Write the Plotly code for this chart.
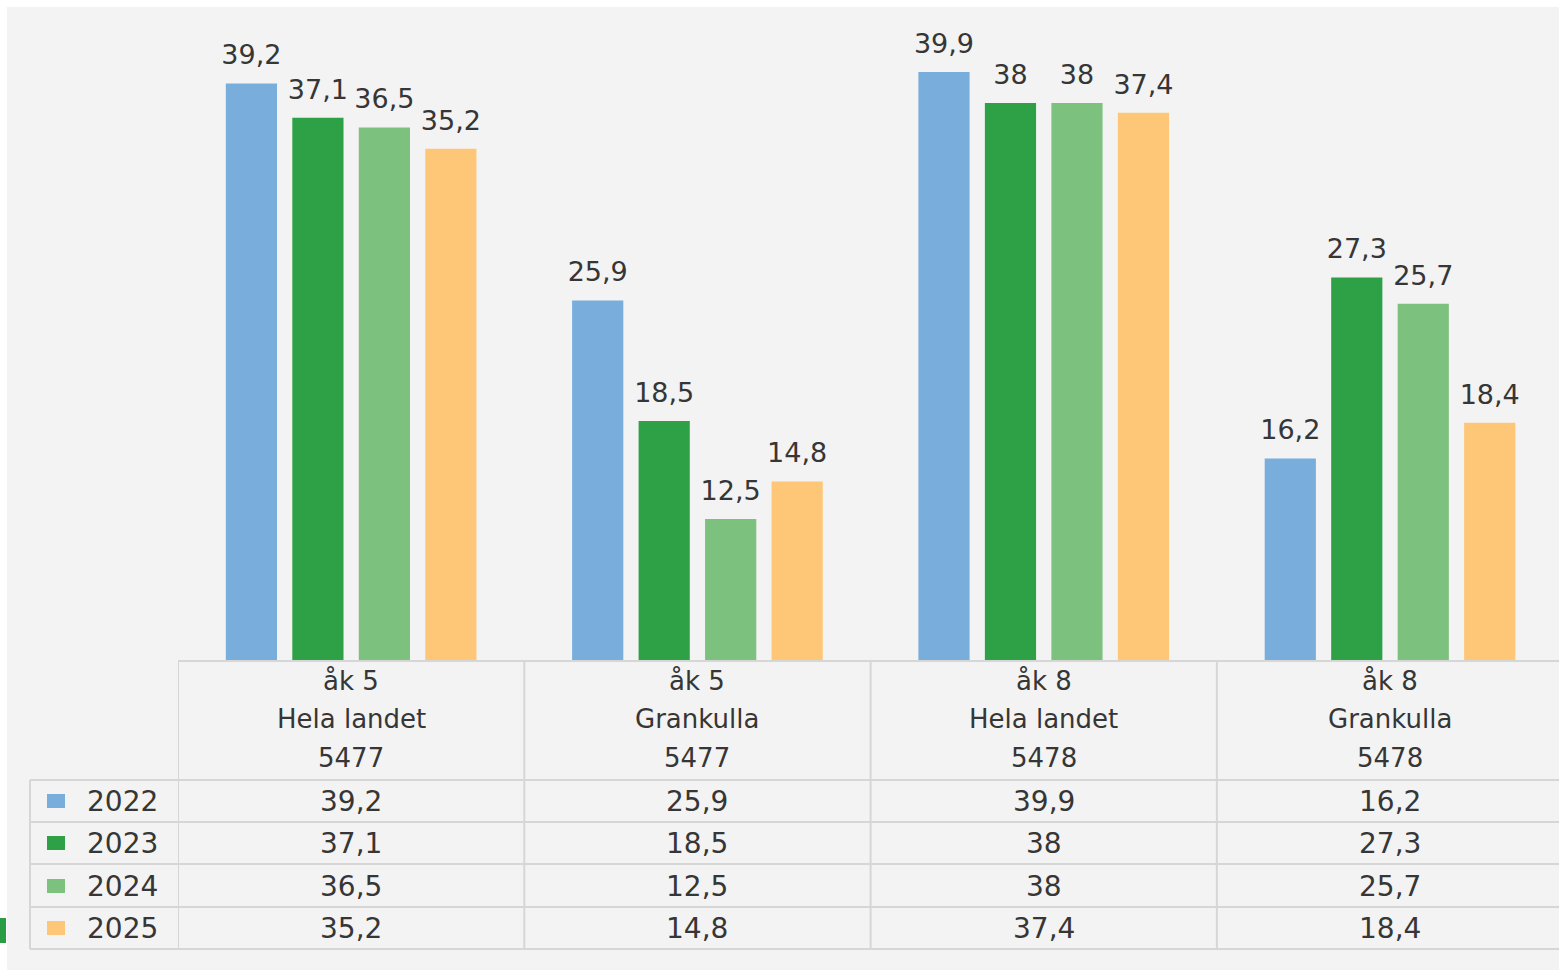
import plotly.graph_objects as go

# ---------------- data ----------------
categories = ["åk 5 Hela landet", "åk 5 Grankulla", "åk 8 Hela landet", "åk 8 Grankulla"]
grade_labels = ["åk 5", "åk 5", "åk 8", "åk 8"]
area_labels = ["Hela landet", "Grankulla", "Hela landet", "Grankulla"]
code_labels = ["5477", "5477", "5478", "5478"]
years = ["2022", "2023", "2024", "2025"]
v2022 = [39.2, 25.9, 39.9, 16.2]
v2023 = [37.1, 18.5, 38, 27.3]
v2024 = [36.5, 12.5, 38, 25.7]
v2025 = [35.2, 14.8, 37.4, 18.4]
series = [v2022, v2023, v2024, v2025]
colors = ["#79addc", "#2ea045", "#7cc17e", "#fec777"]

# ---------------- styling / layout constants ----------------
W, H = 1559, 970
PLOT_L, PLOT_T, PLOT_B = 178, 8, 660     # page pixels
ML, MR, MT, MB = PLOT_L, 0, PLOT_T, H - PLOT_B
PW, PH = W - ML - MR, H - MT - MB
BG = "#f3f3f3"
LINE = "#d6d6d6"
TXT = "#363636"
FONT = "DejaVu Sans"
LABEL_PAD = 0.62  # gap above bars, in axis units


def fmt(v):
    return f"{v:g}".replace(".", ",")


def px_y(p):  # page pixel row -> paper y
    return (PLOT_B - p) / PH


def px_x(p):  # page pixel col -> paper x
    return (p - PLOT_L) / PW


fig = go.Figure()

for j, (yr, vals, col) in enumerate(zip(years, series, colors)):
    fig.add_trace(go.Bar(
        x=categories, y=vals, name=yr, marker=dict(color=col, line=dict(width=0)),
        offsetgroup=str(j), showlegend=False, hoverinfo="x+y",
    ))

# value labels above the bars (transparent carrier bars on top of each bar)
for j, vals in enumerate(series):
    fig.add_trace(go.Bar(
        x=categories, y=[LABEL_PAD] * len(vals), base=vals,
        marker=dict(color="rgba(0,0,0,0)", line=dict(width=0)),
        text=[fmt(v) for v in vals], textposition="outside", constraintext="none",
        textfont=dict(family=FONT, size=27, color=TXT), cliponaxis=False,
        offsetgroup=str(j), showlegend=False, hoverinfo="skip",
    ))

shapes = []
# white frame strips (top & left) and small green mark at the bottom-left edge
shapes.append(dict(type="rect", xref="paper", yref="paper", x0=px_x(0), x1=px_x(W),
                   y0=px_y(7), y1=px_y(0), fillcolor="white", line=dict(width=0), layer="below"))
shapes.append(dict(type="rect", xref="paper", yref="paper", x0=px_x(0), x1=px_x(7),
                   y0=px_y(H), y1=px_y(0), fillcolor="white", line=dict(width=0), layer="below"))
shapes.append(dict(type="rect", xref="paper", yref="paper", x0=px_x(0), x1=px_x(6),
                   y0=px_y(943), y1=px_y(918), fillcolor="#2a9d44", line=dict(width=0)))

# table grid
header_top, rows = 661, [780, 822, 864, 907, 949]
lw = dict(color=LINE, width=2)
shapes.append(dict(type="line", xref="x", yref="paper", x0=-0.5, x1=3.6,
                   y0=px_y(header_top), y1=px_y(header_top), line=lw))
for r in rows:
    shapes.append(dict(type="line", xref="paper", yref="paper", x0=px_x(30), x1=1.01,
                       y0=px_y(r), y1=px_y(r), line=lw))
for i in range(len(categories)):
    shapes.append(dict(type="line", xref="x", yref="paper", x0=i - 0.5, x1=i - 0.5,
                       y0=px_y(header_top), y1=px_y(rows[-1]), line=lw))
shapes.append(dict(type="line", xref="paper", yref="paper", x0=px_x(30), x1=px_x(30),
                   y0=px_y(rows[0]), y1=px_y(rows[-1]), line=lw))

annotations = []
hdr_font = dict(family=FONT, size=26, color=TXT)
for i, c in enumerate(categories):
    for txt, yc in ((grade_labels[i], 681), (area_labels[i], 719), (code_labels[i], 758)):
        annotations.append(dict(x=c, xref="x", y=px_y(yc), yref="paper", text=txt,
                                showarrow=False, xanchor="center", yanchor="middle", font=hdr_font))

row_centers = [801, 843, 886, 928]
cell_font = dict(family=FONT, size=28, color=TXT)
for j, (yr, vals, col) in enumerate(zip(years, series, colors)):
    yc = row_centers[j]
    for i, c in enumerate(categories):
        annotations.append(dict(x=c, xref="x", y=px_y(yc), yref="paper", text=fmt(vals[i]),
                                showarrow=False, xanchor="center", yanchor="middle", font=cell_font))
    annotations.append(dict(x=px_x(85), xref="paper", y=px_y(yc), yref="paper", text=yr,
                            showarrow=False, xanchor="left", yanchor="middle", font=cell_font))
    shapes.append(dict(type="rect", xref="paper", yref="paper", x0=px_x(47), x1=px_x(65),
                       y0=px_y(yc + 7), y1=px_y(yc - 7), fillcolor=col, line=dict(width=0)))

fig.update_layout(
    width=W, height=H,
    margin=dict(l=ML, r=MR, t=MT, b=MB, pad=0),
    paper_bgcolor=BG, plot_bgcolor=BG,
    barmode="group", bargap=0.232, bargroupgap=0.23,
    xaxis=dict(type="category", range=[-0.5, 3.488], showticklabels=False, showgrid=False,
               zeroline=False, showline=False, ticks=""),
    yaxis=dict(range=[3.85, 43.83], showticklabels=False, showgrid=False, zeroline=False,
               showline=False, ticks=""),
    shapes=shapes, annotations=annotations,
    font=dict(family=FONT, color=TXT),
    showlegend=False,
)

fig.write_html(
    "out.html",
    config={"displayModeBar": False},
    post_script="document.body.style.margin='0px';document.body.style.overflow='hidden';",
)
